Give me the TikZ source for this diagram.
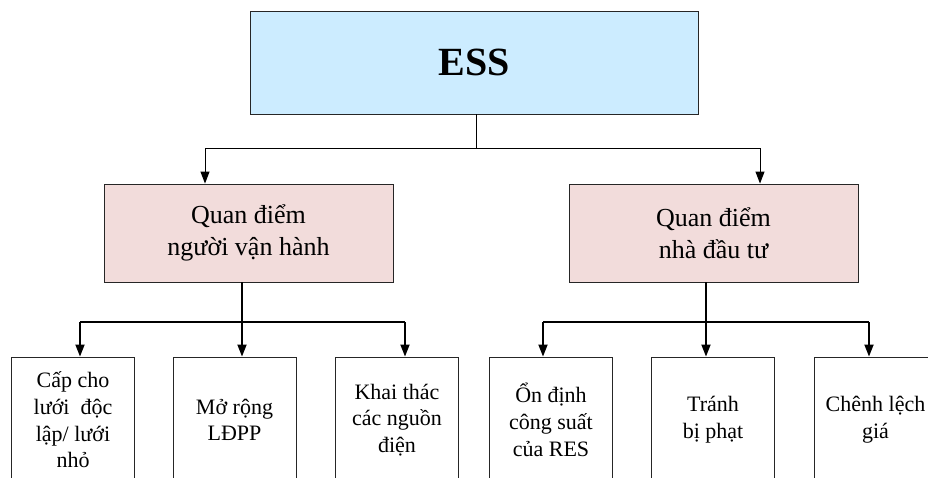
\documentclass[tikz,border=0pt]{standalone}
\usepackage{fontspec}
\setmainfont{Liberation Serif}
\usetikzlibrary{arrows.meta}
\definecolor{essblue}{HTML}{CCECFF}
\definecolor{midpink}{HTML}{F2DCDB}
\definecolor{edgegray}{HTML}{262626}
\tikzset{
  essbox/.style={draw=edgegray, line width=0.9pt, fill=essblue, minimum width=448pt, minimum height=103pt, inner sep=0pt,
    font=\fontsize{40}{46}\selectfont\bfseries},
  midbox/.style={draw=edgegray, line width=0.9pt, fill=midpink, minimum width=289pt, minimum height=98pt, inner sep=0pt,
    align=center, font=\fontsize{26}{32}\selectfont},
  leafbox/.style={draw=edgegray, line width=0.9pt, fill=white, minimum width=123pt, minimum height=126pt, inner sep=0pt,
    align=center, font=\fontsize{22}{26.7}\selectfont},
  thinline/.style={draw=black, line width=1pt},
  thickline/.style={draw=black, line width=1.8pt},
  tip/.style={-{Triangle[length=12pt,width=9pt]}},
}
\begin{document}
\begin{tikzpicture}[x=1pt,y=-1pt]
\useasboundingbox (0,0) rectangle (928,477);
\clip (0,0) rectangle (928,477);
\fill[white] (0,0) rectangle (928,477);

% nodes
\node[essbox] (ess) at (474,62.5) {ESS};
\node[midbox] (m1) at (248.5,233) {Quan điểm\\người vận hành};
\node[midbox] (m2) at (713.5,233) {Quan điểm\\nhà đầu tư};

\node[leafbox] (b1) at (73,420) {Cấp cho\\lưới~ độc\\lập/ lưới\\nhỏ};
\node[leafbox] (b2) at (234.5,420) {Mở rộng\\LĐPP};
\node[leafbox] (b3) at (397,420) {Khai thác\\các nguồn\\điện};
\node[leafbox] (b4) at (551,420) {Ổn định\\công suất\\của RES};
\node[leafbox] (b5) at (713,420) {Tránh\\bị phạt};
\node[leafbox] (b6) at (875.5,420) {Chênh lệch\\giá};

% top level connectors
\coordinate (j0) at (476,148);
\coordinate (t1) at (205,148);
\coordinate (t2) at (760,148);
\draw[thinline] (j0 |- ess.south) -- (j0);
\draw[thinline] (t1) -- (t2);
\draw[thinline,tip] (t1) -- (t1 |- m1.north);
\draw[thinline,tip] (t2) -- (t2 |- m2.north);

% left subtree
\coordinate (j1) at (242,322);
\coordinate (u1) at (80,322);
\coordinate (u3) at (405,322);
\draw[thickline] (u1) -- (u3);
\draw[thickline,tip] (j1 |- m1.south) -- (j1 |- b2.north);
\draw[thickline,tip] (u1) -- (u1 |- b1.north);
\draw[thickline,tip] (u3) -- (u3 |- b3.north);

% right subtree
\coordinate (j2) at (706,322);
\coordinate (v1) at (543,322);
\coordinate (v3) at (869,322);
\draw[thickline] (v1) -- (v3);
\draw[thickline,tip] (j2 |- m2.south) -- (j2 |- b5.north);
\draw[thickline,tip] (v1) -- (v1 |- b4.north);
\draw[thickline,tip] (v3) -- (v3 |- b6.north);
\end{tikzpicture}
\end{document}
